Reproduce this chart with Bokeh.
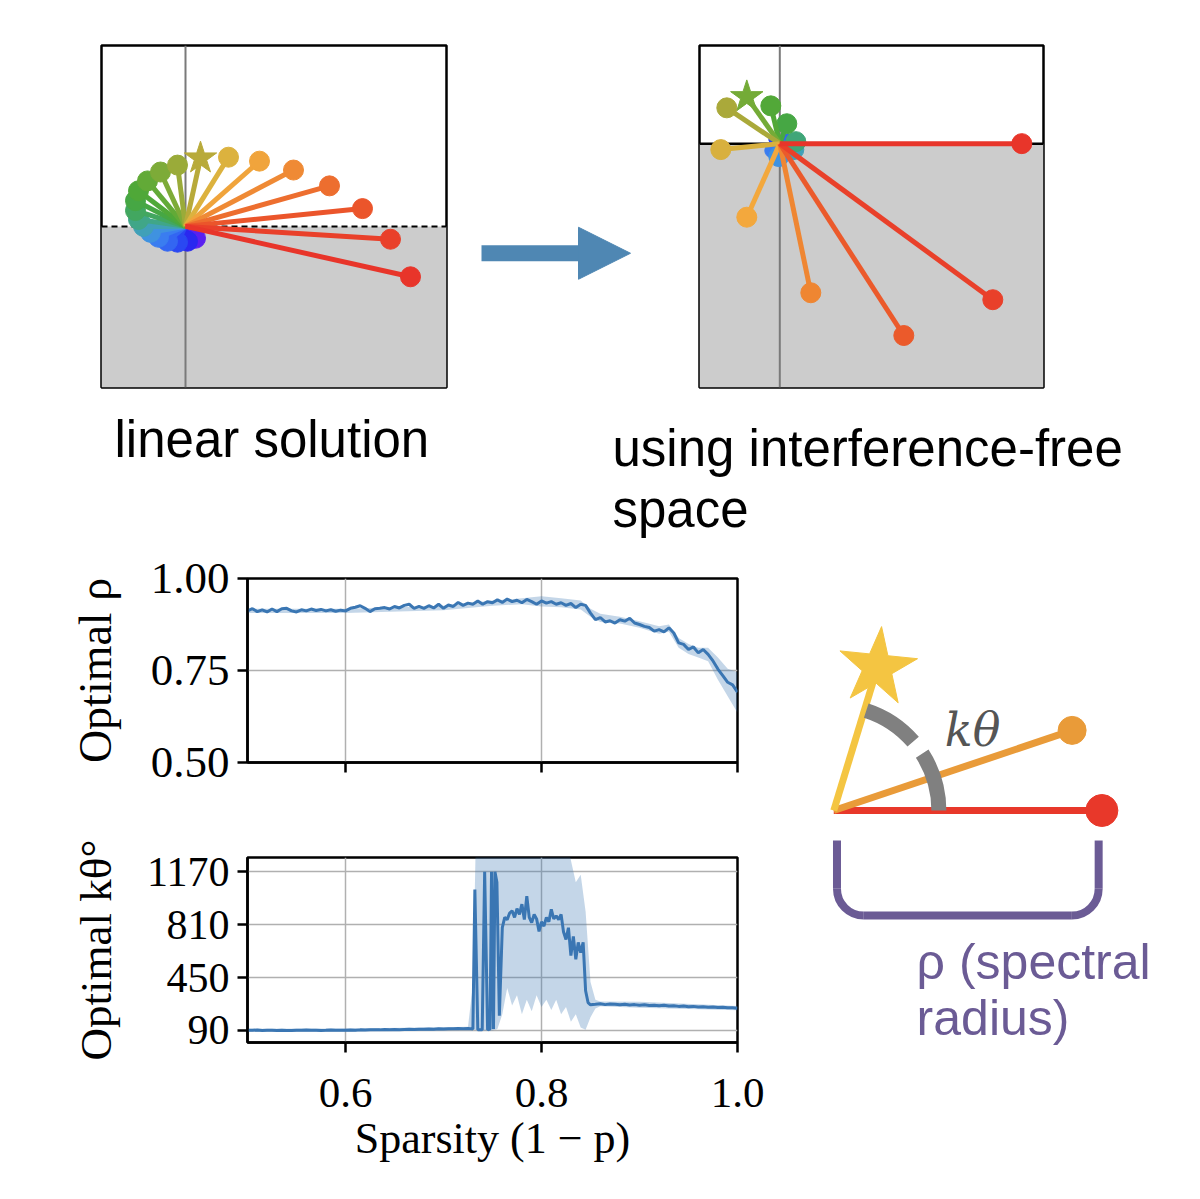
import numpy as np
from bokeh.plotting import figure
from bokeh.models import (Range1d, Span, BoxAnnotation, Arrow, NormalHead, FixedTicker,
                          NumeralTickFormatter)
from bokeh.layouts import row, column
from bokeh.embed import file_html
from bokeh.resources import INLINE
from bokeh.core.properties import value

# ---------------------------------------------------------------- data
# top-left panel "linear solution": vector end points (panel units), red -> purple
lin_x = [2.25, 2.05, 1.77, 1.44, 1.08, 0.74, 0.43, 0.15, -0.08, -0.25, -0.38, -0.47,
         -0.50, -0.50, -0.47, -0.42, -0.35, -0.27, -0.18, -0.08, 0.02, 0.10]
lin_y = [-0.51, -0.13, 0.18, 0.41, 0.57, 0.66, 0.70, 0.69, 0.62, 0.55, 0.46, 0.36,
         0.26, 0.16, 0.07, 0.00, -0.06, -0.11, -0.15, -0.16, -0.15, -0.12]
lin_colors = ["#e8352a", "#e9402a", "#eb552b", "#ed6e2f", "#ef8a35", "#f0a43c", "#dcb23e",
              "#b8aa3a", "#9aab39", "#7dab38", "#62aa37", "#4fa838", "#46a744", "#42a760",
              "#40a688", "#40a0b8", "#3f92e0", "#3a7df0", "#3366f2", "#2a48f2", "#2a28f0",
              "#5a20f0"]
lin_star = 7

# top-right panel "using interference-free space"
ifs_x = [2.42, 2.13, 1.24, 0.31, -0.33, -0.59, -0.53, -0.33, -0.09, 0.07, 0.16, 0.14,
         -0.01, -0.08, 0.08, -0.07, 0.00]
ifs_y = [0.00, -1.57, -1.93, -1.50, -0.74, -0.06, 0.36, 0.47, 0.38, 0.20, 0.02, -0.06,
         -0.13, -0.07, 0.06, 0.04, 0.00]
ifs_colors = ["#e8352a", "#e9402a", "#eb5a2b", "#ef8632", "#f3a83d", "#d8b03e", "#aaa93a",
              "#74ab37", "#52a838", "#46a744", "#40a678", "#40a0b8", "#3f92e0", "#3a7df0",
              "#3366f2", "#2a48f2", "#1a1ad0"]
ifs_sizes = [20, 20, 20, 20, 20, 20, 20, 20, 20, 20, 20, 20, 20, 14, 8, 8, 8]
ifs_star = 7

captions = ["linear solution", "using interference-free", "space"]

# optimal spectral radius vs sparsity
rho_x = [0.500, 0.505, 0.510, 0.515, 0.520, 0.525, 0.530, 0.535, 0.540, 0.545, 0.550,
         0.555, 0.560, 0.565, 0.570, 0.575, 0.580, 0.585, 0.590, 0.595, 0.600, 0.605,
         0.610, 0.615, 0.620, 0.625, 0.630, 0.635, 0.640, 0.645, 0.650, 0.655, 0.660,
         0.665, 0.670, 0.675, 0.680, 0.685, 0.690, 0.695, 0.700, 0.705, 0.710, 0.715,
         0.720, 0.725, 0.730, 0.735, 0.740, 0.745, 0.750, 0.755, 0.760, 0.765, 0.770,
         0.775, 0.780, 0.785, 0.790, 0.795, 0.800, 0.805, 0.810, 0.815, 0.820, 0.825,
         0.830, 0.835, 0.840, 0.845, 0.850, 0.855, 0.860, 0.865, 0.870, 0.875, 0.880,
         0.885, 0.890, 0.895, 0.900, 0.905, 0.910, 0.915, 0.920, 0.925, 0.930, 0.935,
         0.940, 0.945, 0.950, 0.955, 0.960, 0.965, 0.970, 0.975, 0.980, 0.985, 0.990,
         0.995, 1.000]
rho_y = [0.912, 0.918, 0.910, 0.915, 0.909, 0.917, 0.910, 0.918, 0.919, 0.912, 0.909,
         0.915, 0.912, 0.917, 0.913, 0.916, 0.912, 0.915, 0.911, 0.914, 0.912, 0.919,
         0.922, 0.926, 0.919, 0.910, 0.918, 0.919, 0.921, 0.917, 0.924, 0.920, 0.927,
         0.930, 0.919, 0.924, 0.919, 0.926, 0.920, 0.930, 0.919, 0.928, 0.924, 0.935,
         0.927, 0.933, 0.930, 0.939, 0.930, 0.937, 0.934, 0.942, 0.935, 0.944, 0.937,
         0.941, 0.934, 0.943, 0.937, 0.930, 0.939, 0.933, 0.937, 0.930, 0.934, 0.927,
         0.932, 0.921, 0.930, 0.927, 0.906, 0.888, 0.894, 0.882, 0.885, 0.879, 0.888,
         0.884, 0.892, 0.879, 0.875, 0.870, 0.867, 0.857, 0.861, 0.855, 0.866, 0.852,
         0.825, 0.821, 0.807, 0.814, 0.798, 0.807, 0.794, 0.776, 0.754, 0.736, 0.718,
         0.711, 0.691]
rho_band_x = [0.50, 0.60, 0.70, 0.75, 0.78, 0.80, 0.82, 0.84, 0.85, 0.86, 0.88, 0.90,
              0.92, 0.93, 0.94, 0.95, 0.96, 0.97, 0.98, 0.99, 1.00]
rho_band_lo = [0.906, 0.906, 0.914, 0.926, 0.930, 0.924, 0.922, 0.916, 0.896, 0.882, 0.878,
               0.866, 0.850, 0.855, 0.812, 0.795, 0.785, 0.775, 0.725, 0.680, 0.635]
rho_band_hi = [0.918, 0.918, 0.926, 0.940, 0.946, 0.952, 0.946, 0.940, 0.918, 0.904, 0.896,
               0.884, 0.870, 0.875, 0.838, 0.822, 0.812, 0.812, 0.785, 0.755, 0.745]

# optimal k*theta (degrees) vs sparsity
kt_x = [0.500, 0.505, 0.510, 0.515, 0.520, 0.525, 0.530, 0.535, 0.540, 0.545, 0.550,
        0.555, 0.560, 0.565, 0.570, 0.575, 0.580, 0.585, 0.590, 0.595, 0.600, 0.605,
        0.610, 0.615, 0.620, 0.625, 0.630, 0.635, 0.640, 0.645, 0.650, 0.655, 0.660,
        0.665, 0.670, 0.675, 0.680, 0.685, 0.690, 0.695, 0.700, 0.705, 0.710, 0.715,
        0.720, 0.725, 0.7300, 0.7320, 0.7350, 0.7395, 0.7420, 0.7450, 0.7475, 0.7490,
        0.7510, 0.7525, 0.7545, 0.7570, 0.7600, 0.7625, 0.7650, 0.7675, 0.7700, 0.7725,
        0.7750, 0.7775, 0.7800, 0.7825, 0.7850, 0.7875, 0.7900, 0.7925, 0.7950, 0.7975,
        0.8000, 0.8025, 0.8050, 0.8075, 0.8100, 0.8125, 0.8150, 0.8175, 0.8200, 0.8225,
        0.8250, 0.8275, 0.8300, 0.8325, 0.8350, 0.8375, 0.8400, 0.8425, 0.8450, 0.8475,
        0.8500, 0.855, 0.860, 0.865, 0.870, 0.875, 0.880, 0.885, 0.890, 0.895, 0.900,
        0.905, 0.910, 0.915, 0.920, 0.925, 0.930, 0.935, 0.940, 0.945, 0.950, 0.955,
        0.960, 0.965, 0.970, 0.975, 0.980, 0.985, 0.990, 0.995, 1.000]
kt_y = [92, 91, 93, 90, 91, 92, 90, 91, 89, 90, 92, 91, 93, 91, 92, 90, 91, 93, 92, 91,
        92, 93, 92, 94, 93, 94, 95, 94, 96, 95, 96, 95, 97, 98, 97, 99, 98, 100, 99, 101,
        100, 102, 101, 103, 102, 104, 100, 1050, 95, 95, 1170, 95, 100, 1170, 100, 1170,
        1100, 190, 790, 860, 845, 890, 905, 860, 920, 880, 950, 845, 1005, 860, 825, 880,
        850, 765, 830, 800, 860, 830, 915, 850, 870, 845, 880, 760, 710, 790, 600, 730,
        575, 690, 620, 690, 360, 280, 265, 268, 272, 266, 270, 268, 265, 269, 264, 266,
        262, 265, 260, 262, 258, 261, 256, 258, 254, 256, 252, 254, 250, 252, 248, 250,
        246, 248, 244, 245, 242]
kt_band_x = [0.50, 0.60, 0.70, 0.725, 0.730, 0.733, 0.740, 0.750, 0.755, 0.760, 0.765,
             0.770, 0.775, 0.780, 0.785, 0.790, 0.795, 0.800, 0.805, 0.810, 0.815, 0.820,
             0.825, 0.830, 0.835, 0.840, 0.845, 0.850, 0.855, 0.860, 0.900, 1.000]
kt_band_lo = [82, 83, 90, 94, 95, 95, 90, 90, 100, 200, 380, 260, 330, 200, 300, 220, 330,
              250, 300, 230, 300, 200, 250, 150, 200, 110, 95, 180, 240, 255, 245, 228]
kt_band_hi = [102, 103, 112, 116, 400, 1400, 1400, 1400, 1400, 1400, 1400, 1400, 1400,
              1400, 1400, 1400, 1400, 1400, 1400, 1400, 1400, 1400, 1400, 1250, 1100, 1150,
              900, 420, 300, 288, 285, 256]

sparsity_ticks = [0.6, 0.8, 1.0]
rho_ticks = [0.5, 0.75, 1.0]
kt_ticks = [90, 450, 810, 1170]

# schematic (units: spectral radius of the red vector = 1)
sch_end_x = [1.000, 0.889, 0.163]     # red, orange, yellow(star)
sch_end_y = [0.000, 0.299, 0.534]
sch_colors = ["#e8382a", "#e99b39", "#f4c542"]
arc_radius = 0.392
arc_end_deg = 72
bracket_left, bracket_right, bracket_top, bracket_bottom, bracket_corner = 0.012, 0.988, -0.112, -0.392, 0.10

BLUE = "#3a76b3"
SANS = "Liberation Sans"
SERIF = "Liberation Serif"


# ---------------------------------------------------------------- helpers
def canvas(width, height, xr, yr):
    p = figure(width=width, height=height, x_range=Range1d(*xr), y_range=Range1d(*yr),
               x_axis_type=None, y_axis_type=None, toolbar_location=None,
               output_backend="svg", title=None, min_border=0)
    p.outline_line_color = None
    return p


def vector_panel(width, height, xr, yr, borders, xs, ys, colors, sizes, star, dashed):
    left, right, top, bottom = borders
    p = figure(width=width, height=height, x_range=Range1d(*xr), y_range=Range1d(*yr),
               x_axis_type=None, y_axis_type=None, toolbar_location=None,
               output_backend="svg", title=None,
               min_border_left=left, min_border_right=right,
               min_border_top=top, min_border_bottom=bottom)
    p.outline_line_color = "black"
    p.outline_line_width = 2.5
    p.background_fill_color = "white"
    p.border_fill_color = "white"
    p.add_layout(BoxAnnotation(top=0, fill_color="#cccccc", fill_alpha=1.0,
                               line_color=None, level="underlay"))
    p.add_layout(Span(location=0, dimension="height", line_color="#7a7a7a",
                      line_width=2, level="underlay"))
    if dashed:
        p.add_layout(Span(location=0, dimension="width", line_color="black",
                          line_width=2, line_dash="6 4", level="underlay"))
    else:
        p.add_layout(Span(location=0, dimension="width", line_color="black",
                          line_width=2.5, level="underlay"))
    for i in reversed(range(len(xs))):
        p.segment(x0=[0], y0=[0], x1=[xs[i]], y1=[ys[i]], line_color=colors[i],
                  line_width=5)
        if i == star:
            p.scatter([xs[i]], [ys[i]], marker="star", size=34, fill_color=colors[i],
                      line_color=colors[i])
        else:
            p.scatter([xs[i]], [ys[i]], marker="circle", size=sizes[i],
                      fill_color=colors[i], line_color=colors[i])
    return p


def axis_style(p):
    for ax in p.axis:
        ax.axis_line_width = 2.5
        ax.axis_line_color = "black"
        ax.major_tick_line_width = 2.5
        ax.major_tick_line_color = "black"
        ax.major_tick_out = 10
        ax.major_tick_in = 0
        ax.minor_tick_out = 0
        ax.minor_tick_in = 0
        ax.major_label_text_font = SERIF
        ax.major_label_text_color = "black"
        ax.major_label_standoff = 8
        ax.axis_label_text_font = SERIF
        ax.axis_label_text_font_style = "normal"
        ax.axis_label_text_color = "black"
        ax.axis_label_standoff = 18
    p.grid.grid_line_color = "#b0b0b0"
    p.grid.grid_line_width = 1.5
    p.outline_line_color = "black"
    p.outline_line_width = 2.5
    p.background_fill_color = "white"
    p.border_fill_color = "white"


# ---------------------------------------------------------------- top row
fig_tl = vector_panel(465, 400, (-0.84, 2.61), (-1.63, 1.83), (101, 19, 45, 9),
                      lin_x, lin_y, lin_colors, [20] * len(lin_x), lin_star, True)

fig_arrow = canvas(215, 400, (0, 215), (0, 400))
arrow_x = [16, 165]
arrow_y = 157
fig_arrow.add_layout(Arrow(end=NormalHead(size=52, fill_color="#4f87b3", line_color="#4f87b3"),
                           x_start=arrow_x[0], y_start=arrow_y, x_end=arrow_x[1], y_end=arrow_y,
                           line_color="#4f87b3", line_width=16))

fig_tr = vector_panel(512, 400, (-0.803, 2.637), (-2.453, 0.987), (19, 149, 43, 13),
                      ifs_x, ifs_y, ifs_colors, ifs_sizes, ifs_star, False)

# captions under the two panels
fig_cap = canvas(1192, 145, (0, 1192), (545, 400))
fig_cap.text(x=[114, 612, 612], y=[439, 448, 509], text=captions,
             text_font=value(SANS), text_font_size="51px", text_color="black",
             text_align="left", text_baseline="alphabetic")

# ---------------------------------------------------------------- rho plot
p_rho = figure(width=770, height=265, x_range=Range1d(0.5, 1.0), y_range=Range1d(0.5, 1.0),
               min_border_left=247, min_border_right=33, min_border_top=33,
               min_border_bottom=48, toolbar_location=None, output_backend="svg", title=None)
axis_style(p_rho)
p_rho.xaxis.ticker = FixedTicker(ticks=sparsity_ticks)
p_rho.yaxis.ticker = FixedTicker(ticks=rho_ticks)
p_rho.yaxis.formatter = NumeralTickFormatter(format="0.00")
p_rho.xaxis.major_label_overrides = {t: "" for t in sparsity_ticks}
p_rho.yaxis.major_label_text_font_size = "45px"
p_rho.yaxis.axis_label = "Optimal ρ"
p_rho.yaxis.axis_label_text_font_size = "46px"
p_rho.yaxis.axis_label_standoff = 27
p_rho.varea(x=rho_band_x, y1=rho_band_lo, y2=rho_band_hi, fill_color=BLUE, fill_alpha=0.3)
p_rho.line(rho_x, rho_y, line_color=BLUE, line_width=3)

# ---------------------------------------------------------------- k theta plot
p_kt = figure(width=770, height=373, x_range=Range1d(0.5, 1.0), y_range=Range1d(8, 1268),
              min_border_left=247, min_border_right=33, min_border_top=47,
              min_border_bottom=141, toolbar_location=None, output_backend="svg", title=None)
axis_style(p_kt)
p_kt.xaxis.ticker = FixedTicker(ticks=sparsity_ticks)
p_kt.yaxis.ticker = FixedTicker(ticks=kt_ticks)
p_kt.xaxis.formatter = NumeralTickFormatter(format="0.0")
p_kt.yaxis.formatter = NumeralTickFormatter(format="0")
p_kt.yaxis.major_label_text_font_size = "42px"
p_kt.xaxis.major_label_text_font_size = "43px"
p_kt.xaxis.major_label_standoff = 26
p_kt.xaxis.axis_label = "Sparsity (1 − p)"
p_kt.xaxis.axis_label_text_font_size = "44px"
p_kt.xaxis.axis_label_standoff = 4
p_kt.yaxis.axis_label = "Optimal kθ°"
p_kt.yaxis.axis_label_text_font_size = "45px"
p_kt.yaxis.axis_label_standoff = 23
p_kt.varea(x=kt_band_x, y1=kt_band_lo, y2=kt_band_hi, fill_color=BLUE, fill_alpha=0.3)
p_kt.line(kt_x, kt_y, line_color=BLUE, line_width=3)

# ---------------------------------------------------------------- schematic
fig_sch = canvas(422, 638, (-0.236, 1.338), (-1.392, 0.989))
fig_sch.segment(x0=[0, 0, 0], y0=[0, 0, 0], x1=sch_end_x, y1=sch_end_y,
                line_color=sch_colors, line_width=7)
fig_sch.scatter(sch_end_x[:2], sch_end_y[:2], marker="circle", size=[32, 28],
                fill_color=sch_colors[:2], line_color=sch_colors[:2])
fig_sch.scatter([sch_end_x[2]], [sch_end_y[2]], marker="star", size=82, angle=-0.1,
                fill_color=sch_colors[2], line_color=sch_colors[2])
fig_sch.arc(x=[0], y=[0], radius=arc_radius, start_angle=0, end_angle=arc_end_deg,
            start_angle_units="deg", end_angle_units="deg", direction="anticlock",
            line_color="#808080", line_width=15, line_dash="60 15")
fig_sch.text(x=[0.518], y=[0.299], text=["kθ"], text_font=value("DejaVu Serif"),
             text_font_style="italic", text_font_size="46px", text_color="#555555",
             text_align="center", text_baseline="middle")
purple = "#6b5b95"
bl, br, bt, bb, rc = bracket_left, bracket_right, bracket_top, bracket_bottom, bracket_corner
fig_sch.segment(x0=[bl, bl + rc, br], y0=[bt, bb, bt], x1=[bl, br - rc, br],
                y1=[bb + rc, bb, bb + rc], line_color=purple, line_width=8)
fig_sch.arc(x=[bl + rc, br - rc], y=[bb + rc, bb + rc], radius=rc,
            start_angle=[180, 270], end_angle=[270, 360], start_angle_units="deg",
            end_angle_units="deg", direction="anticlock", line_color=purple, line_width=8)
fig_sch.text(x=[0.309, 0.309], y=[-0.566, -0.776], text=["ρ (spectral", "radius)"],
             text_font=value(SANS), text_font_size="50px", text_color=purple,
             text_align="left", text_baseline="alphabetic")

layout = column(row(fig_tl, fig_arrow, fig_tr),
                fig_cap,
                row(column(p_rho, p_kt), fig_sch))

open("out.html", "w").write(file_html(layout, INLINE))
